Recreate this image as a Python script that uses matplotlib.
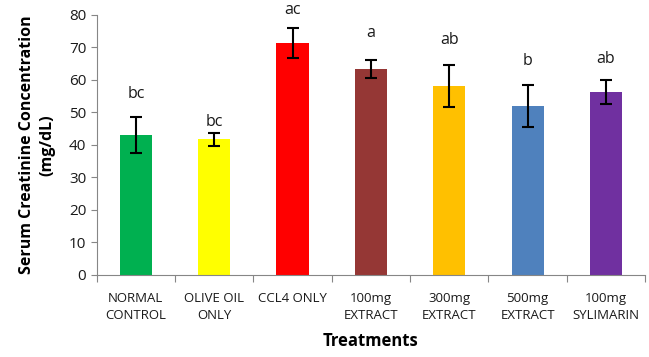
import matplotlib
matplotlib.use("Agg")
import matplotlib.pyplot as plt
import numpy as np

plt.rcParams["font.family"] = ["Open Sans", "DejaVu Sans"]

treatments = ["NORMAL\nCONTROL", "OLIVE OIL\nONLY", "CCL4 ONLY", "100mg\nEXTRACT",
              "300mg\nEXTRACT", "500mg\nEXTRACT", "100mg\nSYLIMARIN"]
means = [43.1, 41.8, 71.3, 63.4, 58.2, 52.0, 56.3]
errors = [5.5, 2.0, 4.6, 2.8, 6.5, 6.6, 3.7]
letters = ["bc", "bc", "ac", "a", "ab", "b", "ab"]
letter_y = [55.6, 47.2, 81.5, 74.4, 72.3, 65.8, 66.4]
colors = ["#00b050", "#ffff00", "#ff0000", "#953735", "#ffc000", "#4f81bd", "#7030a0"]

fig = plt.figure(figsize=(6.49, 3.57), dpi=100)
ax = fig.add_axes([0.149, 0.230, 0.845, 0.728])

x = np.arange(len(treatments))
ax.bar(x, means, width=0.41, color=colors, zorder=2)
ax.errorbar(x, means, yerr=errors, fmt="none", ecolor="black", elinewidth=1.5,
            capsize=4, capthick=1.5, zorder=3)
for xi, lab, ly in zip(x, letters, letter_y):
    ax.text(xi, ly, lab, ha="center", va="center", fontsize=11.5, color="#1a1a1a")

ax.set_xlim(-0.5, len(treatments) - 0.5)
ax.set_ylim(0, 80)
ax.set_yticks(range(0, 81, 10))
ax.set_xticks(np.arange(-0.5, len(treatments), 1))
ax.set_xticklabels([])
ax.set_xticks(x, minor=True)
ax.set_xticklabels(treatments, minor=True, fontsize=9.5, color="#1a1a1a", linespacing=1.45)
ax.tick_params(axis="x", which="minor", length=0, pad=12)
ax.tick_params(axis="x", which="major", length=5, color="#868686", direction="out")
ax.tick_params(axis="y", length=4, color="#868686", labelsize=11, labelcolor="#1a1a1a")

for s in ["top", "right"]:
    ax.spines[s].set_visible(False)
for s in ["left", "bottom"]:
    ax.spines[s].set_color("#868686")

ax.set_ylabel("Serum Creatinine Concentration\n(mg/dL)", fontsize=11.5, fontweight="bold",
              labelpad=10, linespacing=1.3)
ax.set_xlabel("Treatments", fontsize=12, fontweight="bold", labelpad=7)

fig.savefig("out.png", dpi=100)
